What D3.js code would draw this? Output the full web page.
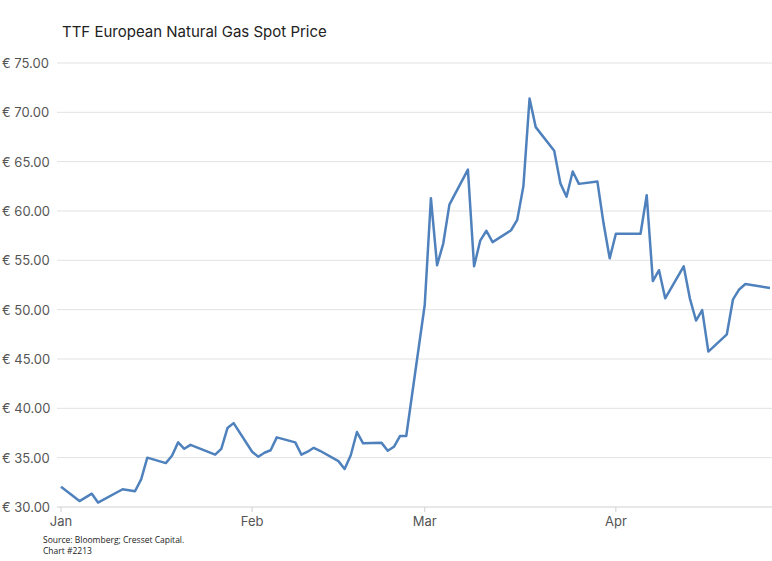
<!DOCTYPE html><html><head><meta charset="utf-8"><script src="https://cdn.jsdelivr.net/npm/d3@7"></script>
<style>body{margin:0;background:#fff}</style></head><body><svg id="c" width="772" height="561"></svg><script>
const dates=["2021-01-01","2021-01-04","2021-01-06","2021-01-07","2021-01-11","2021-01-13","2021-01-14","2021-01-15","2021-01-18","2021-01-19","2021-01-20","2021-01-21","2021-01-22","2021-01-26","2021-01-27","2021-01-28","2021-01-29","2021-02-01","2021-02-02","2021-02-03","2021-02-04","2021-02-05","2021-02-08","2021-02-09","2021-02-10","2021-02-11","2021-02-12","2021-02-15","2021-02-16","2021-02-17","2021-02-18","2021-02-19","2021-02-22","2021-02-23","2021-02-24","2021-02-25","2021-02-26","2021-03-01","2021-03-02","2021-03-03","2021-03-04","2021-03-05","2021-03-08","2021-03-09","2021-03-10","2021-03-11","2021-03-12","2021-03-15","2021-03-16","2021-03-17","2021-03-18","2021-03-19","2021-03-22","2021-03-23","2021-03-24","2021-03-25","2021-03-26","2021-03-29","2021-03-30","2021-03-31","2021-04-01","2021-04-05","2021-04-06","2021-04-07","2021-04-08","2021-04-09","2021-04-12","2021-04-13","2021-04-14","2021-04-15","2021-04-16","2021-04-19","2021-04-20","2021-04-21","2021-04-22","2021-04-26"];
const prices=[32.06,30.6,31.35,30.45,31.8,31.6,32.8,35.0,34.45,35.2,36.55,35.9,36.3,35.3,35.9,38.0,38.5,35.6,35.1,35.5,35.75,37.06,36.55,35.3,35.6,36.0,35.7,34.65,33.85,35.25,37.6,36.45,36.5,35.7,36.1,37.2,37.2,50.5,61.3,54.5,56.7,60.65,64.2,54.4,57.0,58.0,56.85,58.05,59.1,62.5,71.4,68.5,66.1,62.8,61.45,64.0,62.75,63.0,58.75,55.2,57.7,57.7,61.6,52.9,54.0,51.15,54.4,51.15,48.9,49.95,45.75,47.5,51.05,52.05,52.6,52.2];
const yTicks=[30,35,40,45,50,55,60,65,70,75];
const monthTicks=["2021-01-01","2021-02-01","2021-03-01","2021-04-01"];
const monthLabels=["Jan","Feb","Mar","Apr"];
const p=d3.timeParse("%Y-%m-%d");
const svg=d3.select("#c");
const x=d3.scaleTime().domain([p("2021-01-01"),p("2021-04-26")]).range([61,770]);
const y=d3.scaleLinear().domain([30,75]).range([507,63]);
const F="Inter, 'Open Sans', sans-serif";
svg.append("text").attr("x",62).attr("y",37).attr("font-family",F).attr("font-size",15).attr("fill","#222").text("TTF European Natural Gas Spot Price");
const g=svg.append("g");
yTicks.forEach(t=>{
 g.append("line").attr("x1",57).attr("x2",772).attr("y1",y(t)).attr("y2",y(t)).attr("stroke",t===30?"#d0d0d0":"#e2e2e2").attr("stroke-width",1);
 g.append("text").attr("x",2).attr("y",y(t)+5).attr("font-family",F).attr("font-size",13).attr("fill","#555").text("€ "+t.toFixed(2));
});
monthTicks.forEach((m,i)=>{
 const xx=x(p(m));
 g.append("line").attr("x1",xx).attr("x2",xx).attr("y1",507).attr("y2",512).attr("stroke","#d0d0d0");
 g.append("text").attr("x",xx).attr("y",526).attr("text-anchor","middle").attr("font-family",F).attr("font-size",13).attr("fill","#555").text(monthLabels[i]);
});
const data=dates.map((d,i)=>[p(d),prices[i]]);
svg.append("path").datum(data).attr("d",d3.line().x(d=>x(d[0])).y(d=>y(d[1]))).attr("fill","none").attr("stroke","#4f81bd").attr("stroke-width",2.5).attr("stroke-linejoin","round");
svg.append("text").attr("x",43).attr("y",543).attr("font-family","'Open Sans', sans-serif").attr("font-size",8.5).attr("fill","#222").text("Source: Bloomberg; Cresset Capital.");
svg.append("text").attr("x",43).attr("y",554).attr("font-family","'Open Sans', sans-serif").attr("font-size",8.5).attr("fill","#222").text("Chart #2213");
</script></body></html>
